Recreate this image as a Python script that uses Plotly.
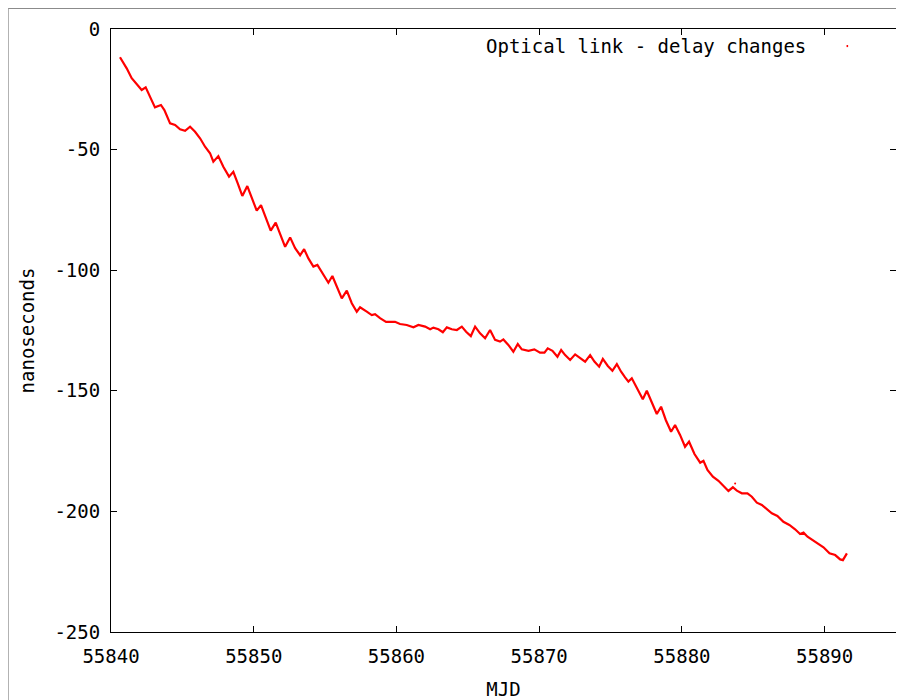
import plotly.graph_objects as go

# MJD values and delay changes (ns)
mjd = [
    55840.63, 55841.10, 55841.45, 55841.91, 55842.15, 55842.43, 55842.73, 55843.08, 55843.50, 55843.74,
    55844.14, 55844.49, 55844.84, 55845.19, 55845.54, 55845.89, 55846.24, 55846.59, 55846.94, 55847.17,
    55847.52, 55847.87, 55848.27, 55848.57, 55848.88, 55849.20, 55849.55, 55849.86, 55850.21, 55850.51,
    55850.80, 55851.19, 55851.54, 55851.85, 55852.20, 55852.55, 55852.90, 55853.25, 55853.53, 55853.83,
    55854.18, 55854.46, 55854.77, 55855.23, 55855.51, 55855.82, 55856.17, 55856.52, 55856.87, 55857.22,
    55857.45, 55857.92, 55858.27, 55858.50, 55858.85, 55859.27, 55859.90, 55860.25, 55860.72, 55861.19,
    55861.54, 55862.01, 55862.36, 55862.59, 55862.94, 55863.25, 55863.53, 55863.88, 55864.23, 55864.58,
    55864.88, 55865.21, 55865.51, 55865.86, 55866.21, 55866.56, 55866.91, 55867.26, 55867.49, 55867.84,
    55868.19, 55868.50, 55868.78, 55869.25, 55869.66, 55870.06, 55870.37, 55870.60, 55870.93, 55871.28,
    55871.54, 55871.82, 55872.17, 55872.52, 55872.87, 55873.22, 55873.57, 55873.87, 55874.20, 55874.46,
    55874.81, 55875.13, 55875.44, 55875.74, 55876.02, 55876.25, 55876.49, 55876.84, 55877.26, 55877.54,
    55877.89, 55878.24, 55878.54, 55878.87, 55879.24, 55879.52, 55879.87, 55880.22, 55880.50, 55880.88,
    55881.28, 55881.51, 55881.79, 55882.17, 55882.56, 55882.91, 55883.26, 55883.57, 55883.85, 55884.20,
    55884.59, 55884.90, 55885.25, 55885.60, 55885.99, 55886.30, 55886.69, 55887.11, 55887.53, 55887.93,
    55888.28, 55888.52, 55888.80, 55889.22, 55889.57, 55889.92, 55890.34, 55890.74, 55891.09, 55891.28,
    55891.56,
]
delay_ns = [
    -11.7, -16.3, -20.4, -23.6, -25.3, -24.2, -28.1, -32.5, -31.5, -33.6,
    -39.1, -39.8, -41.6, -42.2, -40.5, -42.6, -45.3, -48.8, -51.5, -55.0,
    -52.7, -57.1, -61.2, -59.2, -64.0, -69.2, -65.1, -70.2, -75.3, -73.0,
    -77.8, -83.6, -80.3, -85.4, -90.3, -86.4, -90.9, -93.8, -91.3, -95.1,
    -98.5, -97.8, -100.6, -105.2, -102.4, -106.8, -111.7, -108.5, -113.7, -117.2,
    -115.4, -117.2, -118.6, -118.2, -119.9, -121.4, -121.4, -122.3, -122.7, -123.7,
    -122.7, -123.4, -124.5, -123.8, -124.5, -125.7, -123.7, -124.5, -124.8, -123.4,
    -125.5, -127.3, -123.4, -126.2, -128.2, -124.8, -128.9, -129.6, -128.7, -131.0,
    -133.8, -130.6, -132.8, -133.4, -132.8, -134.2, -134.2, -132.4, -133.4, -135.9,
    -133.1, -135.2, -137.2, -134.9, -136.5, -137.9, -135.2, -137.9, -140.0, -136.8,
    -139.7, -141.7, -138.9, -142.1, -144.4, -146.2, -144.8, -149.0, -153.5, -150.0,
    -155.2, -159.6, -156.6, -162.1, -167.0, -164.2, -168.3, -173.2, -171.1, -176.2,
    -179.8, -179.0, -182.8, -185.6, -187.3, -189.5, -191.5, -190.0, -191.4, -192.5,
    -192.5, -193.9, -196.4, -197.3, -199.4, -200.8, -201.9, -204.3, -205.6, -207.4,
    -209.4, -208.8, -210.5, -212.1, -213.2, -214.9, -217.4, -218.1, -219.9, -220.2,
    -217.4,
]
outlier_mjd = [55883.73]
outlier_ns = [-188.4]

x_ticks = [55840, 55850, 55860, 55870, 55880, 55890]
y_ticks = [0, -50, -100, -150, -200, -250]
series_name = "Optical link - delay changes"

FONT = "DejaVu Sans Mono"
FS = 19
fig = go.Figure()
fig.add_trace(go.Scatter(x=mjd, y=delay_ns, mode="lines", name=series_name,
                         line=dict(color="#ff0000", width=2.2), showlegend=False))
fig.add_trace(go.Scatter(x=outlier_mjd, y=outlier_ns, mode="markers",
                         marker=dict(color="#ff0000", size=2), showlegend=False))

axis_common = dict(showline=True, linecolor="black", linewidth=1, mirror="allticks",
                   ticks="inside", ticklen=6, tickcolor="black", showgrid=False,
                   zeroline=False, automargin=False,
                   tickfont=dict(family=FONT, size=FS, color="black"))
fig.update_xaxes(range=[55840, 55895], tickvals=x_ticks, ticktext=[str(v) for v in x_ticks],
                 ticklabelstandoff=7,
                 title=dict(text="MJD", font=dict(family=FONT, size=FS, color="black"), standoff=16),
                 **axis_common)
fig.update_yaxes(range=[-250, 0], tickvals=y_ticks, ticktext=[str(v) for v in y_ticks],
                 ticklabelstandoff=6,
                 title=dict(text="nanoseconds", font=dict(family=FONT, size=FS, color="black"), standoff=14),
                 **axis_common)

# legend drawn gnuplot-style: text then a dot sample on the right
fig.add_annotation(x=0.8882, y=0.9718, xref="paper", yref="paper", xanchor="right", yanchor="middle",
                   text=series_name, showarrow=False, font=dict(family=FONT, size=FS, color="black"))
fig.add_shape(type="rect", xref="paper", yref="paper", x0=0.9370, x1=0.9390, y0=0.9700, y1=0.9735,
              fillcolor="#ff0000", line=dict(width=0))

# outer grey frame (left and top edges)
fig.add_shape(type="line", xref="paper", yref="paper", x0=-0.1310, x1=-0.1310, y0=-0.2, y1=1.034,
              line=dict(color="#8a8a8a", width=1))
fig.add_shape(type="line", xref="paper", yref="paper", x0=-0.1310, x1=1.05, y0=1.034, y1=1.034,
              line=dict(color="#8a8a8a", width=1))

fig.update_layout(width=896, height=692, margin=dict(l=103, r=8, t=21, b=68),
                  paper_bgcolor="white", plot_bgcolor="white", showlegend=False,
                  font=dict(family=FONT, size=FS, color="black"))
fig.write_html("out.html")
